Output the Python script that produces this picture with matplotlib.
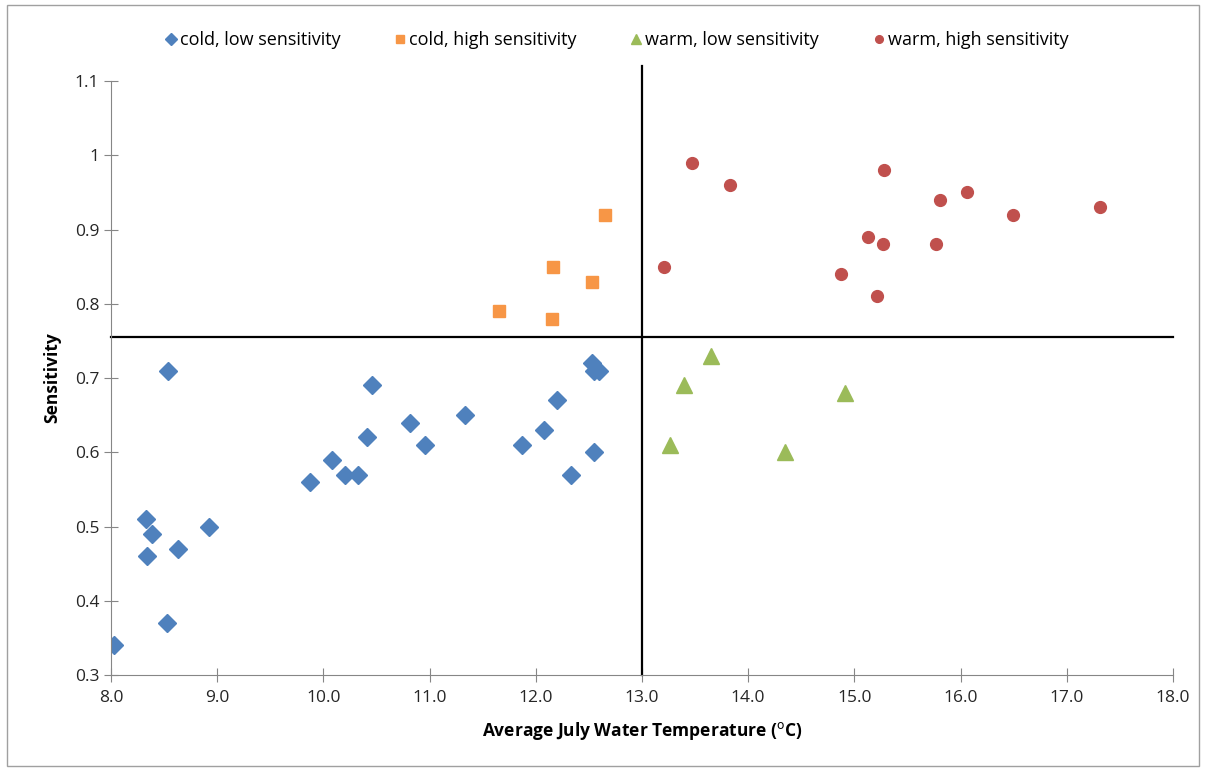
import matplotlib
matplotlib.use("Agg")
from matplotlib import pyplot as plt
from matplotlib.patches import Rectangle
from matplotlib.ticker import FormatStrFormatter, FuncFormatter

cold_low_x = [8.03, 8.54, 8.33, 8.39, 8.34, 8.63, 8.92, 8.53, 9.87, 10.08, 10.20, 10.33,
              10.41, 10.46, 10.82, 10.96, 11.33, 12.53, 12.55, 12.60, 12.20, 12.08, 11.87,
              12.55, 12.33]
cold_low_y = [0.34, 0.71, 0.51, 0.49, 0.46, 0.47, 0.50, 0.37, 0.56, 0.59, 0.57, 0.57,
              0.62, 0.69, 0.64, 0.61, 0.65, 0.72, 0.71, 0.71, 0.67, 0.63, 0.61,
              0.60, 0.57]

cold_high_x = [11.65, 12.15, 12.16, 12.53, 12.65]
cold_high_y = [0.79, 0.78, 0.85, 0.83, 0.92]

warm_low_x = [13.65, 13.40, 13.26, 14.35, 14.91]
warm_low_y = [0.73, 0.69, 0.61, 0.60, 0.68]

warm_high_x = [13.47, 13.83, 13.21, 15.28, 15.81, 16.06, 16.49, 17.31, 15.13, 15.27,
               15.77, 14.87, 15.21]
warm_high_y = [0.99, 0.96, 0.85, 0.98, 0.94, 0.95, 0.92, 0.93, 0.89, 0.88,
               0.88, 0.84, 0.81]

temp_split = 13.0
sens_split = 0.755

plt.rcParams["font.family"] = ["Open Sans", "DejaVu Sans"]

fig = plt.figure(figsize=(12.06, 7.68), dpi=100)
fig.patches.append(Rectangle((0.006, 0.003), 0.988, 0.99, transform=fig.transFigure,
                             fill=False, edgecolor="#a0a0a0", linewidth=1))
ax = fig.add_axes([0.092, 0.121, 0.8806, 0.7735])

ax.plot(cold_low_x, cold_low_y, "D", color="#4F81BD", ms=9, label="cold, low sensitivity")
ax.plot(cold_high_x, cold_high_y, "s", color="#F79646", ms=8.5, label="cold, high sensitivity")
ax.plot(warm_low_x, warm_low_y, "^", color="#9BBB59", ms=11, label="warm, low sensitivity")
ax.plot(warm_high_x, warm_high_y, "o", color="#C0504D", ms=8.5, label="warm, high sensitivity")

ax.plot([temp_split, temp_split], [0.3, 1.12], color="black", lw=1.6, clip_on=False)
ax.plot([8, 18], [sens_split, sens_split], color="black", lw=1.6, clip_on=False)

ax.set_xlim(8, 18)
ax.set_ylim(0.3, 1.1)
ax.set_xticks([8, 9, 10, 11, 12, 13, 14, 15, 16, 17, 18])
ax.set_yticks([0.3, 0.4, 0.5, 0.6, 0.7, 0.8, 0.9, 1.0, 1.1])
ax.xaxis.set_major_formatter(FormatStrFormatter("%.1f"))
ax.yaxis.set_major_formatter(FuncFormatter(lambda v, p: "%g" % round(v, 2)))

for s in ["top", "right"]:
    ax.spines[s].set_visible(False)
for s in ["left", "bottom"]:
    ax.spines[s].set_color("#868686")
ax.tick_params(direction="inout", length=10, color="#868686", labelsize=12.5,
               labelcolor="#262626")
ax.tick_params(axis="x", pad=6)

ax.set_xlabel("Average July Water Temperature ($^{\\mathrm{o}}$C)", fontsize=12.5,
              fontweight="bold", labelpad=10)
ax.set_ylabel("Sensitivity", fontsize=12.5, fontweight="bold", labelpad=10)

fig.legend(loc="center", bbox_to_anchor=(615 / 1206, 1 - 40 / 768), ncol=4, frameon=False,
           fontsize=13, handletextpad=0.0, columnspacing=2.8, handlelength=1.0,
           markerscale=0.65)

fig.savefig("out.png", dpi=100)
